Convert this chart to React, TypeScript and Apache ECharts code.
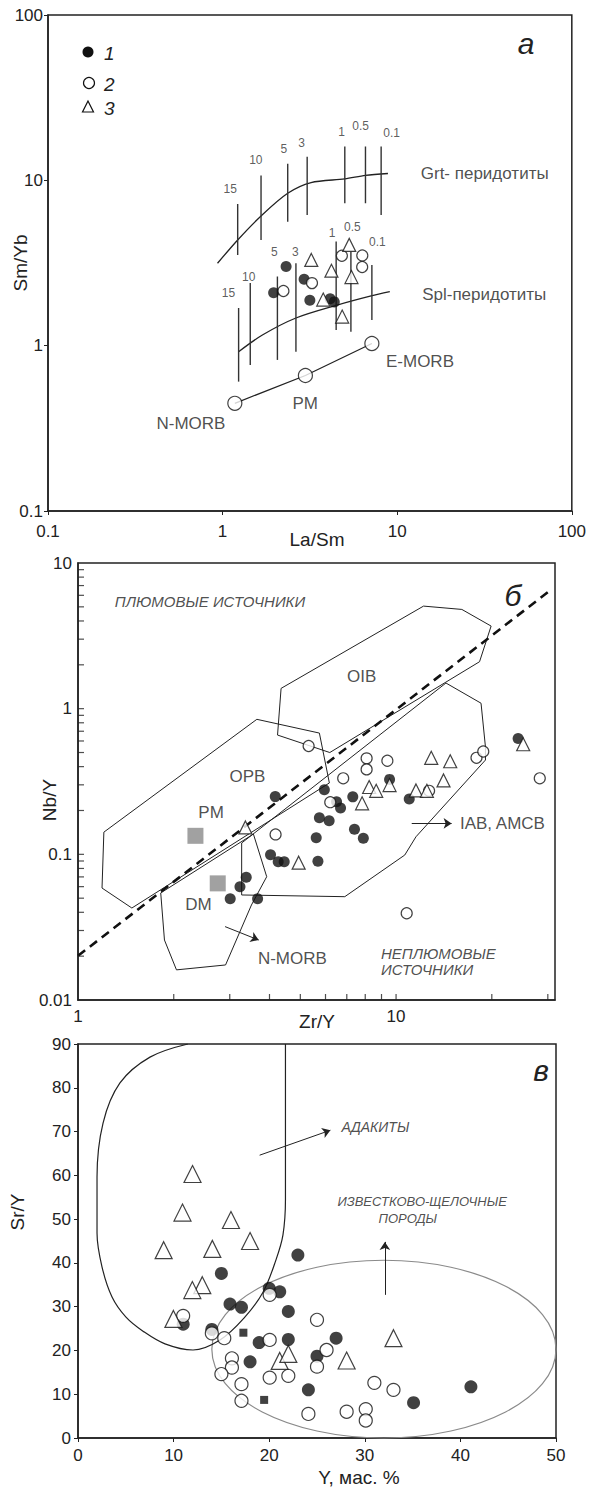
import React, { useEffect, useRef } from "react";
import * as echarts from "echarts";

const FONT = "'Liberation Sans', Arial, sans-serif";
const INK = "#222";

// ---------------- Panel а : La/Sm – Sm/Yb ----------------
const A_GROUP1 = [[2.31, 3.01], [2.93, 2.52], [1.96, 2.09], [3.16, 1.88], [4.13, 1.92], [4.36, 1.84]];
const A_GROUP2 = [[2.23, 2.14], [3.25, 2.39], [4.82, 3.5], [6.31, 3.51], [6.3, 2.99]];
const A_GROUP3 = [[3.22, 3.3], [4.2, 2.84], [5.31, 4.07], [5.47, 2.6], [3.77, 1.9], [4.84, 1.5]];
const A_GRT_CURVE = [[0.935, 3.15], [1.22, 4.36], [1.66, 6.09], [2.36, 8.35], [3.21, 9.69], [5.01, 10.2], [6.58, 10.7], [8.85, 11.0]];
// [x, yLow, yHigh]
const A_GRT_BARS = [[1.22, 3.54, 7.2], [1.66, 4.36, 10.7], [2.36, 5.62, 12.6], [3.05, 6.17, 13.9], [5.01, 7.27, 16.0], [6.58, 7.27, 16.0], [8.09, 6.17, 16.0]];
const A_GRT_MELT = [["15", 1.106, 8.83], ["10", 1.55, 13.3], ["5", 2.24, 15.4], ["3", 2.83, 16.9], ["1", 4.81, 19.7], ["0.5", 6.17, 21.3], ["0.1", 9.3, 19.4]];
const A_SPL_CURVE = [[1.235, 0.92], [1.69, 1.16], [2.63, 1.47], [4.53, 1.76], [7.09, 2.0], [9.07, 2.12]];
const A_SPL_BARS = [[1.235, 0.606, 1.69], [1.44, 0.764, 2.39], [2.06, 0.82, 2.62], [2.63, 0.92, 3.15], [4.47, 1.245, 4.26], [5.43, 1.215, 3.7], [7.16, 1.43, 3.08]];
const A_SPL_MELT = [["15", 1.08, 2.09], ["10", 1.41, 2.59], ["5", 1.98, 3.67], ["3", 2.61, 3.67], ["1", 4.23, 4.79], ["0.5", 5.54, 5.25], ["0.1", 7.7, 4.26]];
const A_MORB = [[1.175, 0.448], [2.98, 0.66], [7.16, 1.03]];
const A_LABELS = [["N-MORB", 0.659, 0.339], ["PM", 2.97, 0.444], ["E-MORB", 13.5, 0.8], ["Grt- перидотиты", 31.7, 11.0], ["Spl-перидотиты", 31.5, 2.03]];

// ---------------- Panel б : Zr/Y – Nb/Y ----------------
const B_GROUP1 = [[24.2, 0.625], [9.54, 0.327], [4.17, 0.249], [5.95, 0.278], [6.5, 0.23], [6.69, 0.208], [7.31, 0.248], [11.0, 0.24], [5.74, 0.178], [6.16, 0.17], [7.4, 0.1485], [7.89, 0.1288], [5.61, 0.1298], [4.03, 0.0995], [4.26, 0.089], [4.45, 0.089], [5.68, 0.0897], [3.38, 0.0695], [3.23, 0.0599], [3.01, 0.0495], [3.67, 0.0495]];
const B_GROUP2 = [[5.31, 0.554], [8.08, 0.456], [9.39, 0.439], [8.08, 0.383], [6.82, 0.3325], [17.9, 0.46], [18.8, 0.508], [28.3, 0.3325], [6.21, 0.228], [4.18, 0.137], [10.8, 0.0394], [12.7, 0.273]];
const B_GROUP3 = [[25.1, 0.57], [12.9, 0.46], [14.8, 0.4355], [14.1, 0.3216], [8.23, 0.29], [8.66, 0.273], [9.54, 0.299], [11.55, 0.2745], [12.5, 0.273], [7.82, 0.224], [3.36, 0.153], [4.94, 0.0876]];
const B_RESERVOIRS = [[2.34, 0.134], [2.75, 0.0632]];
const B_OIB = [[4.35, 1.378], [12.2, 5.06], [16.1, 4.8], [19.9, 3.69], [18.3, 2.1], [6.19, 0.5], [4.24, 0.659], [4.35, 1.378]];
const B_OPB = [[1.206, 0.142], [3.65, 0.845], [5.74, 0.68], [6.17, 0.309], [1.477, 0.0428], [1.19, 0.0587], [1.206, 0.142]];
const B_IAB = [[3.27, 0.1196], [14.35, 1.5], [18.5, 1.09], [19.1, 0.545], [19.1, 0.444], [11.55, 0.132], [10.65, 0.0989], [6.9, 0.0512], [3.27, 0.0526], [3.27, 0.1196]];
const B_NMORB = [[1.82, 0.0543], [1.87, 0.0258], [2.04, 0.0161], [2.91, 0.0174], [3.51, 0.0449], [3.92, 0.0702], [3.56, 0.1378], [1.82, 0.0543]];
const B_DIVIDE = [[1, 0.0201], [30.6, 6.52]];
const B_ARROWS = [[[11.2, 0.163], [14.95, 0.163]], [[2.9, 0.0319], [3.7, 0.0258]]];
const B_LABELS = [["OIB", 7.8, 1.66], ["OPB", 3.41, 0.341], ["PM", 2.62, 0.193], ["DM", 2.39, 0.0449], ["N-MORB", 4.72, 0.0193], ["IAB, AMCB", 21.6, 0.163]];
const B_REGIONS = [["ПЛЮМОВЫЕ ИСТОЧНИКИ", 2.6, 5.42], ["НЕПЛЮМОВЫЕ", 8.93, 0.0209], ["ИСТОЧНИКИ", 8.93, 0.0161]];
const B_XTICKS = [2, 3, 4, 5, 6, 7, 8, 9, 10, 20, 30];
const B_YTICKS = [0.02, 0.03, 0.04, 0.05, 0.06, 0.07, 0.08, 0.09, 0.1, 0.2, 0.3, 0.4, 0.5, 0.6, 0.7, 0.8, 0.9, 1, 2, 3, 4, 5, 6, 7, 8, 9];

// ---------------- Panel в : Y – Sr/Y ----------------
const V_GROUP1 = [[23, 41.8], [15, 37.6], [20, 34.2], [21.1, 33.4], [15.9, 30.6], [17.1, 29.85], [22, 28.9], [11, 26], [14, 24.8], [18.95, 21.8], [22, 22.5], [27, 22.8], [25, 18.7], [18, 17.4], [24.1, 11], [35.1, 8.07], [41.1, 11.7]];
const V_GROUP2 = [[20.05, 32.7], [11, 27.9], [14, 23.9], [15.3, 22.8], [20.05, 22.4], [25, 27], [26, 20.1], [16.1, 18.2], [16.1, 16.1], [15, 14.6], [25, 16.3], [17.1, 12.3], [17.1, 8.5], [20.05, 13.8], [22, 14.2], [24.1, 5.5], [28.1, 6], [31, 12.6], [33, 11], [30.1, 6.6], [30.1, 4]];
const V_GROUP3 = [[11.98, 60.3], [10.93, 51.5], [16, 49.8], [18, 45], [8.96, 42.9], [14.05, 43.2], [13, 34.9], [11.96, 33.8], [9.98, 27.2], [21.1, 17.6], [22, 19.2], [28.1, 17.7], [33, 22.8]];
const V_SQUARES = [[17.3, 24.05], [19.47, 8.7]];
const V_ADAKITE = [[11.49, 90], [7.53, 87], [4.39, 81.1], [2.62, 71.95], [1.99, 59.6], [1.99, 46.8], [2.51, 39.1], [3.56, 32.2], [5.02, 27.6], [6.8, 24.4], [9.1, 21.5], [12.03, 20.1], [14.85, 22.4], [17.36, 27.4], [19.35, 33.3], [20.71, 40.7], [21.44, 46.4], [21.7, 54.4], [21.7, 90]];
// centre x, centre y, radius x, radius y
const V_CALC_ALK = [[32, 20.3, 18, 20.3]];
const V_ARROWS = [[[19.0, 64.6], [26.4, 70.3]], [[32.1, 32.7], [32.1, 44.8]]];
const V_LABELS = [["ИЗВЕСТКОВО-ЩЕЛОЧНЫЕ", 36.0, 54.0], ["ПОРОДЫ", 34.5, 50.2]];
const V_LEFT_LABELS = [["АДАКИТЫ", 27.5, 71.1]];

function logFmt(v: number) {
  const l = Math.log10(v);
  if (Math.abs(l - Math.round(l)) > 1e-6) return "";
  const p = Math.round(l);
  return p >= 0 ? String(Math.pow(10, p)) : (Math.pow(10, p)).toFixed(-p);
}

const labelStyle = { fontSize: 17, color: INK, fontFamily: FONT };

function pts(i: number, data: number[][], kind: string, size: number) {
  return {
    type: "scatter", xAxisIndex: i, yAxisIndex: i, data, silent: true, z: 10,
    symbol: kind === "tri" ? "triangle" : kind === "sq" || kind === "gray" ? "rect" : "circle",
    symbolSize: size,
    itemStyle: kind === "filled" ? { color: "#111" } : kind === "gray" ? { color: "#8a8a8a" } : kind === "sq" ? { color: "#111" } : { color: "#fff", borderColor: "#111", borderWidth: 1.2 },
  };
}
function line(i: number, data: number[][], o: any = {}) {
  return {
    type: "line", xAxisIndex: i, yAxisIndex: i, data, symbol: "none", silent: true, z: 3,
    smooth: o.smooth || false,
    lineStyle: { color: o.color || INK, width: o.width || 1, type: o.dash || "solid" },
  };
}
function bars(i: number, b: number[][], w: number) {
  return b.map((r) => line(i, [[r[0], r[1]], [r[0], r[2]]], { width: w, color: "#333" }));
}
function texts(i: number, items: any[], style: any, pos = "inside") {
  return {
    type: "scatter", xAxisIndex: i, yAxisIndex: i, symbolSize: 1, silent: true, z: 8,
    itemStyle: { color: "rgba(0,0,0,0)" },
    data: items.map((t) => ({ name: t[0], value: [t[1], t[2]] })),
    label: {
      show: true, position: pos, distance: 0, formatter: "{b}", color: INK, fontFamily: FONT,
      textBorderWidth: 0, ...style,
    },
  };
}
function arrows(i: number, list: number[][][]) {
  return {
    type: "lines", coordinateSystem: "cartesian2d", xAxisIndex: i, yAxisIndex: i, silent: true, z: 4,
    symbol: ["none", "arrow"], symbolSize: 8,
    lineStyle: { color: INK, width: 1, opacity: 1 },
    data: list.map((c) => ({ coords: c })),
  };
}

function gtext(text: string, x: number, y: number, size: number, extra: any = {}) {
  return {
    type: "text", x, y, rotation: extra.rotation || 0, silent: true,
    style: {
      text, fill: INK, font: `${extra.italic ? "italic " : ""}${size}px ${FONT}`,
      align: extra.align || "center", textAlign: extra.align || "center",
      verticalAlign: "middle", textVerticalAlign: "middle",
    },
  };
}

const gridBase = { show: true, borderColor: INK, borderWidth: 1.5, backgroundColor: "#fff" };
const axisLine = { show: true, lineStyle: { color: INK, width: 1.5 } };

const option: any = {
  animation: false,
  backgroundColor: "#fff",
  grid: [
    { ...gridBase, left: 48, top: 15, width: 525, height: 496 },
    { ...gridBase, left: 78, top: 563, width: 477, height: 437 },
    { ...gridBase, left: 78, top: 1044, width: 478, height: 394 },
  ],
  xAxis: [
    { gridIndex: 0, type: "log", logBase: 10, min: 0.1, max: 100, axisLine, splitLine: { show: false }, axisTick: { show: true, length: 4, lineStyle: { color: INK } }, axisLabel: { ...labelStyle, margin: 12, formatter: logFmt } },
    { gridIndex: 1, type: "log", logBase: 10, min: 1, max: 31.6, axisLine, splitLine: { show: false }, axisTick: { show: false }, axisLabel: { ...labelStyle, margin: 8, formatter: logFmt } },
    { gridIndex: 2, type: "value", min: 0, max: 50, interval: 10, axisLine, splitLine: { show: false }, axisTick: { show: true, length: 4, lineStyle: { color: INK } }, axisLabel: { ...labelStyle, margin: 9 } },
  ],
  yAxis: [
    { gridIndex: 0, type: "log", logBase: 10, min: 0.1, max: 100, axisLine, splitLine: { show: false }, axisTick: { show: true, length: 4, lineStyle: { color: INK } }, axisLabel: { ...labelStyle, margin: 5, formatter: logFmt } },
    { gridIndex: 1, type: "log", logBase: 10, min: 0.01, max: 10, axisLine, splitLine: { show: false }, axisTick: { show: false }, axisLabel: { ...labelStyle, margin: 6, formatter: logFmt } },
    { gridIndex: 2, type: "value", min: 0, max: 90, interval: 10, axisLine, splitLine: { show: false }, axisTick: { show: true, length: 4, lineStyle: { color: INK } }, axisLabel: { ...labelStyle, margin: 7 } },
  ],
  series: [
    // Panel а
    line(0, A_GRT_CURVE, { smooth: 0.3, width: 1.3 }),
    ...bars(0, A_GRT_BARS, 1.4),
    line(0, A_SPL_CURVE, { smooth: 0.3, width: 1.3 }),
    ...bars(0, A_SPL_BARS, 1.4),
    line(0, A_MORB, { width: 1.2 }),
    pts(0, A_MORB, "open", 14),
    texts(0, A_GRT_MELT, { fontSize: 12, color: "#333" }),
    texts(0, A_SPL_MELT, { fontSize: 12, color: "#333" }),
    texts(0, A_LABELS, { fontSize: 17 }),
    pts(0, A_GROUP1, "filled", 11),
    pts(0, A_GROUP2, "open", 11),
    pts(0, A_GROUP3, "tri", 13),
    // Panel б
    line(1, B_OIB), line(1, B_OPB), line(1, B_IAB), line(1, B_NMORB),
    line(1, B_DIVIDE, { width: 2.6, dash: [9, 6], color: "#111" }),
    arrows(1, B_ARROWS),
    texts(1, B_LABELS, { fontSize: 17 }),
    texts(1, B_REGIONS.slice(0, 1), { fontSize: 15, fontStyle: "italic" }),
    texts(1, B_REGIONS.slice(1), { fontSize: 15, fontStyle: "italic" }, "right"),
    {
      type: "scatter", xAxisIndex: 1, yAxisIndex: 1, silent: true, z: 6, symbol: "rect", symbolSize: [1.2, 6], symbolOffset: [0, -3],
      itemStyle: { color: INK }, data: B_XTICKS.map((v) => [v, 0.01]),
    },
    {
      type: "scatter", xAxisIndex: 1, yAxisIndex: 1, silent: true, z: 6, symbol: "rect", symbolSize: [6, 1.2], symbolOffset: [3, 0],
      itemStyle: { color: INK }, data: B_YTICKS.map((v) => [1, v]),
    },
    pts(1, B_RESERVOIRS, "gray", 16),
    pts(1, B_GROUP1, "filled", 11),
    pts(1, B_GROUP2, "open", 11),
    pts(1, B_GROUP3, "tri", 13),
    // Panel в
    line(2, V_ADAKITE, { smooth: 0.35, width: 1.2 }),
    {
      type: "custom", xAxisIndex: 2, yAxisIndex: 2, silent: true, z: 3, data: V_CALC_ALK,
      renderItem: (params: any, api: any) => {
        const c = api.coord([api.value(0), api.value(1)]);
        const s = api.size([api.value(2), api.value(3)]);
        return { type: "ellipse", shape: { cx: c[0], cy: c[1], rx: s[0], ry: s[1] }, style: { fill: "none", stroke: "#8a8a8a", lineWidth: 1.2 } };
      },
    },
    arrows(2, V_ARROWS),
    texts(2, V_LABELS, { fontSize: 13, fontStyle: "italic" }),
    texts(2, V_LEFT_LABELS, { fontSize: 14, fontStyle: "italic" }, "right"),
    pts(2, V_SQUARES, "sq", 8),
    pts(2, V_GROUP1, "filled", 13),
    pts(2, V_GROUP2, "open", 13),
    pts(2, V_GROUP3, "tri", 17),
  ],
  graphic: [
    gtext("Sm/Yb", 20, 263, 19, { rotation: Math.PI / 2 }),
    gtext("La/Sm", 317, 539, 19),
    gtext("Nb/Y", 49, 800, 19, { rotation: Math.PI / 2 }),
    gtext("Zr/Y", 317, 1021, 19),
    gtext("Sr/Y", 17, 1212, 19, { rotation: Math.PI / 2 }),
    gtext("Y, мас. %", 359, 1477, 19),
    gtext("а", 526, 43, 30, { italic: true }),
    gtext("б", 513, 595, 30, { italic: true }),
    gtext("в", 541, 1070, 30, { italic: true }),
    { type: "circle", shape: { cx: 88, cy: 52, r: 5.5 }, style: { fill: "#111" }, silent: true },
    { type: "circle", shape: { cx: 89, cy: 83, r: 5.5 }, style: { fill: "#fff", stroke: "#111", lineWidth: 1.2 }, silent: true },
    { type: "polygon", shape: { points: [[88, 101], [82.5, 112], [93.5, 112]] }, style: { fill: "#fff", stroke: "#111", lineWidth: 1.2 }, silent: true },
    gtext("1", 104, 53, 19, { italic: true, align: "left" }),
    gtext("2", 104, 84, 19, { italic: true, align: "left" }),
    gtext("3", 104, 108, 19, { italic: true, align: "left" }),
  ],
};

export default function App() {
  const ref = useRef<HTMLDivElement>(null);
  useEffect(() => {
    const chart = echarts.init(ref.current!, null, { renderer: "svg" });
    chart.setOption(option);
    return () => chart.dispose();
  }, []);
  return <div ref={ref} style={{ position: "absolute", left: 0, top: 0, width: 589, height: 1487, background: "#fff" }} />;
}
